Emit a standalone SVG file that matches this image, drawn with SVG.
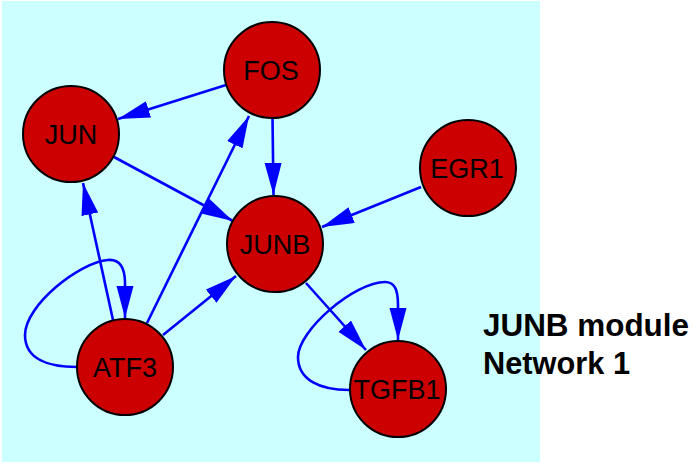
<svg xmlns="http://www.w3.org/2000/svg" width="694" height="464" viewBox="0 0 694 464">
  <defs>
    <style>
      .node circle { fill: #cc0000; stroke: #000000; stroke-width: 2; }
      .node text { font-family: "Liberation Sans", Arial, sans-serif; font-size: 27px; fill: #000000; text-anchor: middle; }
      .edge { fill: none; stroke: #0000ff; stroke-width: 2.6; marker-end: url(#arrow); }
      .title { font-family: "Liberation Sans", Arial, sans-serif; font-size: 31px; font-weight: bold; fill: #000000; }
    </style>
    <marker id="arrow" markerUnits="userSpaceOnUse" markerWidth="33" markerHeight="18" refX="32" refY="8.5" orient="auto" viewBox="0 0 33 18">
      <path d="M0,0 L32,8.5 L0,17 z" fill="#0000ff"/>
    </marker>
  </defs>
  <rect x="2" y="1" width="538" height="461" fill="#ccffff"/>
  <g id="edges">
    <path class="edge" d="M226,85 L118,119"/>
    <path class="edge" d="M272.5,118 L273.5,195"/>
    <path class="edge" d="M114,157 L233,221"/>
    <path class="edge" d="M113,320 L83,183"/>
    <path class="edge" d="M147,323 L249,116"/>
    <path class="edge" d="M163,335 L236,276"/>
    <path class="edge" d="M421,187 L322,227"/>
    <path class="edge" d="M306,283 L366,350"/>
    <path class="edge" d="M77,367 C 50,367 25,360 25,335 C 25,305 80,262 108,260 C 120,259 125,268 125,283 L125,318"/>
    <path class="edge" d="M349,390 C 320,390 298,380 298,357 C 298,330 355,282 385,282 C 395,282 398,290 398,305 L398,340"/>
  </g>
  <g id="node-FOS" class="node"><circle cx="272" cy="70" r="48"/><text x="271" y="80">FOS</text></g>
  <g id="node-JUN" class="node"><circle cx="71" cy="134" r="48"/><text x="71" y="144">JUN</text></g>
  <g id="node-JUNB" class="node"><circle cx="275" cy="244" r="48"/><text x="275" y="254">JUNB</text></g>
  <g id="node-EGR1" class="node"><circle cx="468" cy="168" r="48"/><text x="467" y="178">EGR1</text></g>
  <g id="node-ATF3" class="node"><circle cx="125" cy="367" r="48"/><text x="125" y="377">ATF3</text></g>
  <g id="node-TGFB1" class="node"><circle cx="398" cy="389" r="48"/><text x="397" y="399">TGFB1</text></g>
  <text class="title" x="483" y="336" textLength="206" lengthAdjust="spacingAndGlyphs">JUNB module</text>
  <text class="title" x="483" y="374" textLength="147" lengthAdjust="spacingAndGlyphs">Network 1</text>
</svg>
